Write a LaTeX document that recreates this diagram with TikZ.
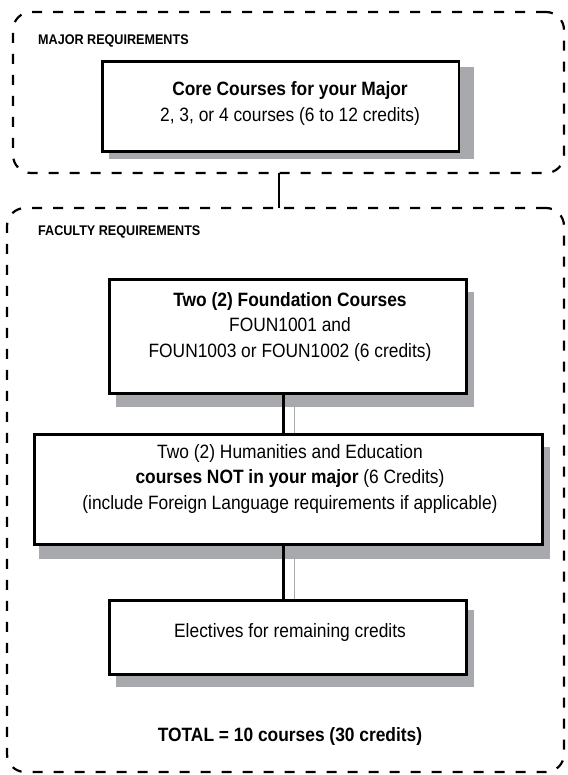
\documentclass[tikz,border=0pt]{standalone}
\usepackage{fontspec}
\setmainfont{Liberation Sans}[FakeStretch=0.9]
\definecolor{shadowgray}{HTML}{A7A9AC}
\begin{document}
\begin{tikzpicture}[x=1pt,y=-1pt,
  grp/.style={draw=black, line width=2.2pt, dash pattern=on 10pt off 11pt, rounded corners=18pt, anchor=north west, inner sep=0pt, outer sep=0pt},
  boxstyle/.style={draw=black, line width=2.8pt, fill=white, anchor=north west, inner sep=0pt},
  shadowstyle/.style={fill=shadowgray, draw=none, anchor=north west, inner sep=0pt, outer sep=0pt},
  link/.style={draw=black, line width=2.2pt},
  glink/.style={draw=shadowgray, line width=1.8pt},
  grplabel/.style={anchor=west, font=\fontsize{14}{16}\selectfont\bfseries, inner sep=0pt},
  txt/.style={align=center, font=\fontsize{19.3}{25.5}\selectfont, inner sep=0pt}
]
\useasboundingbox (0,0) rectangle (567,775);

% group frames
\node[grp, minimum width=551pt, minimum height=161pt] (major) at (13,12) {};
\node[grp, minimum width=557pt, minimum height=564pt] (faculty) at (7,208) {};
\node[grplabel] (majorlbl) at (38,41) {MAJOR REQUIREMENTS};
\node[grplabel] (facultylbl) at (38,232) {FACULTY REQUIREMENTS};

% shadows
\node[shadowstyle, minimum width=365.5pt, minimum height=92pt] (coresh) at (108.5,67) {};
\node[shadowstyle, minimum width=358pt, minimum height=115pt] (foundsh) at (116,292) {};
\node[shadowstyle, minimum width=511pt, minimum height=112pt] (humansh) at (39,447) {};
\node[shadowstyle, minimum width=358pt, minimum height=77pt] (electsh) at (116,610) {};

% boxes
\node[boxstyle, minimum width=356.5pt, minimum height=90pt] (core) at (101,60) {};
\node[boxstyle, minimum width=357pt, minimum height=114pt] (found) at (108,278) {};
\node[boxstyle, minimum width=508pt, minimum height=110pt] (human) at (33,433) {};
\node[boxstyle, minimum width=357pt, minimum height=74pt] (elect) at (108,599) {};

% connectors
\draw[link] ([xshift=-1.5pt]core.south |- major.south) -- ([xshift=-1.5pt]core.south |- faculty.north);
\draw[glink] ([xshift=6.5pt]found.south |- foundsh.south) -- ([xshift=6.5pt]found.south |- human.north);
\draw[link] ([xshift=-4.5pt]found.south) -- ([xshift=-4.5pt]found.south |- human.north);
\draw[glink] ([xshift=6.5pt]found.south |- humansh.south) -- ([xshift=6.5pt]found.south |- elect.north);
\draw[link] ([xshift=-4.5pt]found.south |- human.south) -- ([xshift=-4.5pt]found.south |- elect.north);

% texts
\node[txt] (coretxt) at (290,103.5) {\textbf{Core Courses for your Major}\\2, 3, or 4 courses (6 to 12 credits)};
\node[txt] (foundtxt) at (290,327) {\textbf{Two (2) Foundation Courses}\\FOUN1001 and\\FOUN1003 or FOUN1002 (6 credits)};
\node[txt] (humantxt) at (290,479) {Two (2) Humanities and Education\\\textbf{courses NOT in your major} (6 Credits)\\(include Foreign Language requirements if applicable)};
\node[txt] (electtxt) at (290,633) {Electives for remaining credits};
\node[txt, font=\fontsize{19.3}{25.5}\selectfont\bfseries] (total) at (290,737) {TOTAL = 10 courses (30 credits)};
\end{tikzpicture}
\end{document}
